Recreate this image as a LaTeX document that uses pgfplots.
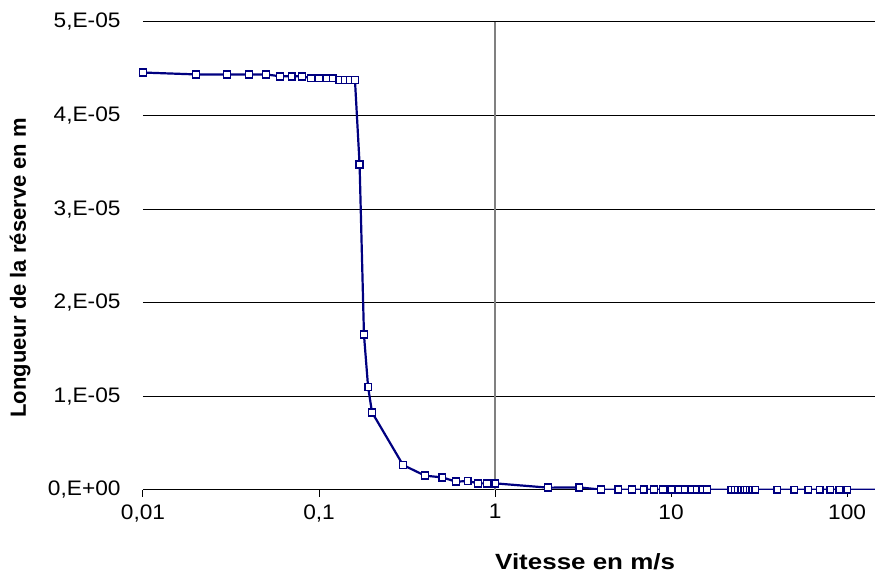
\documentclass[border=0pt]{standalone}
\usepackage{fontspec}
\setmainfont{Liberation Sans}
\usepackage{graphicx}
\usepackage{pgfplots}
\pgfplotsset{compat=1.18}
\definecolor{navy}{RGB}{0,0,128}
\newcommand{\wt}[1]{\scalebox{1.08}[1]{#1}}
\pgfplotstableread{
x y
0.01 4.46e-5
0.02 4.44e-5
0.03 4.44e-5
0.04 4.44e-5
0.05 4.44e-5
0.06 4.42e-5
0.07 4.42e-5
0.08 4.42e-5
0.09 4.40e-5
0.10 4.40e-5
0.11 4.40e-5
0.12 4.40e-5
0.13 4.38e-5
0.14 4.38e-5
0.15 4.38e-5
0.16 4.38e-5
0.17 3.48e-5
0.18 1.66e-5
0.19 1.10e-5
0.20 0.83e-5
0.3 0.267e-5
0.4 0.153e-5
0.5 0.135e-5
0.6 0.089e-5
0.7 0.096e-5
0.8 0.071e-5
0.9 0.071e-5
1 0.071e-5
2 0.025e-5
3 0.028e-5
4 0.004e-5
5 0.003e-5
6 0.003e-5
7 0.003e-5
8 0.003e-5
9 0.003e-5
10 0.003e-5
11 0.003e-5
12 0.003e-5
13 0.003e-5
14 0.003e-5
15 0.003e-5
16 0.003e-5
22 0.002e-5
23 0.002e-5
24 0.002e-5
25 0.002e-5
26 0.002e-5
27 0.002e-5
28 0.002e-5
29 0.002e-5
30 0.002e-5
40 0.002e-5
50 0.002e-5
60 0.002e-5
70 0.002e-5
80 0.002e-5
90 0.002e-5
100 0.002e-5
200 0.002e-5
}\datatable
\begin{document}
\begin{tikzpicture}
\begin{axis}[name=ax, scale only axis, width=732pt, height=468pt,
  xmode=log, xmin=0.01, xmax=144, ymin=0, ymax=5e-5,
  axis x line*=bottom, axis y line*=left,
  y axis line style={draw=none},
  x axis line style={black, line width=1pt, -},
  ytick style={draw=none},
  xtick style={black, line width=1pt},
  tick align=outside, major tick length=7pt,
  xminorticks=false,
  xtick={0.01,0.1,1,10,100},
  xticklabels={\wt{0,01},\wt{0,1},\wt{1},\wt{10},\wt{100}},
  ytick={0,1e-5,2e-5,3e-5,4e-5,5e-5},
  yticklabels={\wt{0,E+00},\wt{1,E-05},\wt{2,E-05},\wt{3,E-05},\wt{4,E-05},\wt{5,E-05}},
  scaled y ticks=false,
  ymajorgrids, grid style={black, line width=1pt},
  ticklabel style={font=\fontsize{21}{25}\selectfont},
  yticklabel style={xshift=-12pt},
  xticklabel style={yshift=-4pt},
  xlabel={\scalebox{1.18}[1]{Vitesse en m/s}},
  xlabel style={at={(axis description cs:0.604,-0.153)}, anchor=center, font=\bfseries\fontsize{22}{26}\selectfont},
  ylabel={Longueur de la réserve en m},
  ylabel style={at={(axis description cs:-0.168,0.475)}, anchor=center, font=\bfseries\fontsize{22}{26}\selectfont},
]
\draw[gray, line width=2.5pt] (axis cs:1,5e-5) -- (axis cs:1,0);
\addplot[navy, line width=2.2pt, mark=square*, mark size=3.4pt,
  mark options={solid, fill=white, draw=navy, line width=1.7pt}] table[x=x,y=y] {\datatable};
\end{axis}
\pgfresetboundingbox
\path[use as bounding box] ([xshift=-143pt,yshift=-84pt]ax.south west) rectangle ([yshift=22pt]ax.north east);
\end{tikzpicture}
\end{document}
